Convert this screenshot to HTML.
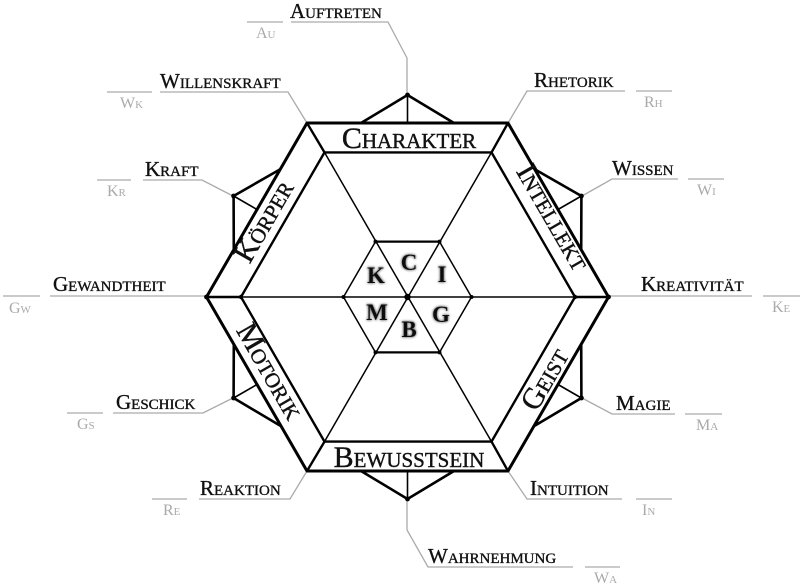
<!DOCTYPE html>
<html><head><meta charset="utf-8"><style>
html,body{margin:0;padding:0;background:#fff;}
svg{display:block;}
text{font-family:"Liberation Serif",serif;font-variant:small-caps;}
.l{font-size:21px;fill:#111;stroke:#111;stroke-width:0.35;}
.a{font-size:16px;fill:#aaa;}
.g{stroke:#aaa;stroke-width:1.3;fill:none;}
.b{font-size:30px;fill:#111;stroke:#111;stroke-width:0.4;}
.c{font-size:23px;font-weight:bold;fill:#111;font-variant:normal;text-anchor:middle;}
</style></head><body>
<svg width="800" height="587" viewBox="0 0 800 587" xmlns="http://www.w3.org/2000/svg">
<filter id="glow"><feGaussianBlur stdDeviation="1.2" in="SourceAlpha" result="b"/><feFlood flood-color="#777"/><feComposite in2="b" operator="in" result="s"/><feMerge><feMergeNode in="s"/><feMergeNode in="s"/><feMergeNode in="SourceGraphic"/></feMerge></filter>
<g class="g">
<polyline points="291,22 388,22 407,58 407,95"/>
<line x1="247" y1="22" x2="283" y2="22"/>
<polyline points="160,92 288,92 307,123"/>
<line x1="107" y1="92" x2="152" y2="92"/>
<polyline points="625,91 527,91 508,123"/>
<line x1="636" y1="91" x2="672" y2="91"/>
<polyline points="678,179 612,179 582,196"/>
<line x1="688" y1="179" x2="724" y2="179"/>
<polyline points="143,180 202,180 233,196"/>
<line x1="97" y1="180" x2="131" y2="180"/>
<line x1="50" y1="296" x2="207" y2="296"/>
<line x1="3" y1="296" x2="40" y2="296"/>
<line x1="608" y1="296" x2="752" y2="296"/>
<line x1="763" y1="296" x2="800" y2="296"/>
<polyline points="113,413 203,413 233,398"/>
<line x1="67" y1="413" x2="103" y2="413"/>
<polyline points="675,414 612,414 582,398"/>
<line x1="685" y1="414" x2="722" y2="414"/>
<polyline points="199,499 290,499 307,471"/>
<line x1="152" y1="499" x2="187" y2="499"/>
<polyline points="622,499 527,499 508,471"/>
<line x1="636" y1="499" x2="672" y2="499"/>
<polyline points="407,499 407,530 428,567 573,567"/>
<line x1="585" y1="567" x2="620" y2="567"/>
</g>
<g stroke="#aaa" stroke-width="1.3">
<line x1="392" y1="223" x2="424" y2="223"/>
<line x1="293" y1="281" x2="329" y2="281"/>
<line x1="489" y1="281" x2="525" y2="281"/>
<line x1="308" y1="382" x2="343" y2="382"/>
<line x1="472" y1="382" x2="507" y2="382"/>
<line x1="390" y1="423" x2="425" y2="423"/>
</g>
<g stroke="#000" stroke-width="2.6" fill="none" stroke-linejoin="round">
<polyline points="361,123 407.5,95 454,123"/><line x1="407.5" y1="95" x2="407.5" y2="123" stroke-width="1.6"/>
<polyline points="361,471 407.5,499 454,471"/><line x1="407.5" y1="499" x2="407.5" y2="471" stroke-width="1.6"/>
<polyline points="280.3,169.2 233.6,196 233.8,249.8"/><line x1="233.6" y1="196" x2="257" y2="209.5" stroke-width="1.6"/>
<polyline points="534.7,169.2 581.4,196 581.2,249.8"/><line x1="581.4" y1="196" x2="558" y2="209.5" stroke-width="1.6"/>
<polyline points="280.3,425.8 233.6,398 233.8,344.2"/><line x1="233.6" y1="398" x2="257" y2="384.5" stroke-width="1.6"/>
<polyline points="534.7,425.8 581.4,398 581.2,344.2"/><line x1="581.4" y1="398" x2="558" y2="384.5" stroke-width="1.6"/>
</g>
<g fill="none" stroke="#000" stroke-linejoin="round">
<polygon points="307,123 508,123 608.5,297 508,471 307,471 206.5,297" fill="#fff" stroke-width="3"/>
<polygon points="324.5,152.4 491.5,152.4 575,297 491.5,441.6 324.5,441.6 241,297" stroke-width="2.4"/>
<g stroke-width="2.4">
<line x1="307" y1="123" x2="324.5" y2="152.4"/><line x1="508" y1="123" x2="491.5" y2="152.4"/>
<line x1="608.5" y1="297" x2="575" y2="297"/><line x1="206.5" y1="297" x2="241" y2="297"/>
<line x1="307" y1="471" x2="324.5" y2="441.6"/><line x1="508" y1="471" x2="491.5" y2="441.6"/>
</g>
<g stroke-width="1.5">
<line x1="241" y1="297" x2="575" y2="297"/>
<line x1="324.5" y1="152.4" x2="491.5" y2="441.6"/>
<line x1="491.5" y1="152.4" x2="324.5" y2="441.6"/>
<polygon points="375.5,241.6 439.5,241.6 471.5,297 439.5,352.4 375.5,352.4 343.5,297"/>
</g>
<line x1="375.5" y1="241.6" x2="439.5" y2="241.6" stroke-width="2.2"/>
<line x1="375.5" y1="352.4" x2="439.5" y2="352.4" stroke-width="2.2"/>
</g>
<g fill="#000">
<circle cx="407.5" cy="297" r="3.2"/>
<circle cx="375.5" cy="241.6" r="2"/><circle cx="439.5" cy="241.6" r="2"/>
<circle cx="375.5" cy="352.4" r="2"/><circle cx="439.5" cy="352.4" r="2"/>
<circle cx="343.5" cy="297" r="2"/><circle cx="471.5" cy="297" r="2"/>
<circle cx="241" cy="297" r="2.2"/><circle cx="575" cy="297" r="2.2"/>
<circle cx="206.5" cy="297" r="2.4"/><circle cx="608.5" cy="297" r="2.4"/>
<circle cx="407.5" cy="95" r="2.4"/><circle cx="407.5" cy="499" r="2.4"/>
<circle cx="233.6" cy="196" r="2.4"/><circle cx="581.4" cy="196" r="2.4"/>
<circle cx="233.6" cy="398" r="2.4"/><circle cx="581.4" cy="398" r="2.4"/>
</g>
<g class="b" text-anchor="middle">
<text x="409" y="148">Charakter</text>
<text x="409" y="467">Bewusstsein</text>
<text transform="translate(272,226) rotate(-60)">Körper</text>
<text transform="translate(545,222) rotate(60)">Intellekt</text>
<text transform="translate(262,376) rotate(60)">Motorik</text>
<text transform="translate(553,384) rotate(-60)">Geist</text>
</g>
<g class="c" filter="url(#glow)">
<text x="409" y="270">C</text>
<text x="376" y="283">K</text>
<text x="442" y="282">I</text>
<text x="377" y="320">M</text>
<text x="441" y="322">G</text>
<text x="409" y="337">B</text>
</g>
<g class="l">
<text x="290" y="18">Auftreten</text>
<text x="160" y="88">Willenskraft</text>
<text x="534" y="87">Rhetorik</text>
<text x="612" y="175">Wissen</text>
<text x="145" y="176">Kraft</text>
<text x="53" y="291">Gewandtheit</text>
<text x="641" y="291">Kreativität</text>
<text x="116" y="409">Geschick</text>
<text x="616" y="410">Magie</text>
<text x="200" y="495">Reaktion</text>
<text x="530" y="495">Intuition</text>
<text x="428" y="563">Wahrnehmung</text>
</g>
<g class="a">
<text x="256" y="38">Au</text>
<text x="120" y="108">Wk</text>
<text x="644" y="107">Rh</text>
<text x="697" y="195">Wi</text>
<text x="107" y="196">Kr</text>
<text x="9" y="313">Gw</text>
<text x="772" y="312">Ke</text>
<text x="77" y="429">Gs</text>
<text x="696" y="430">Ma</text>
<text x="163" y="515">Re</text>
<text x="642" y="515">In</text>
<text x="594" y="583">Wa</text>
</g>
</svg>
</body></html>
